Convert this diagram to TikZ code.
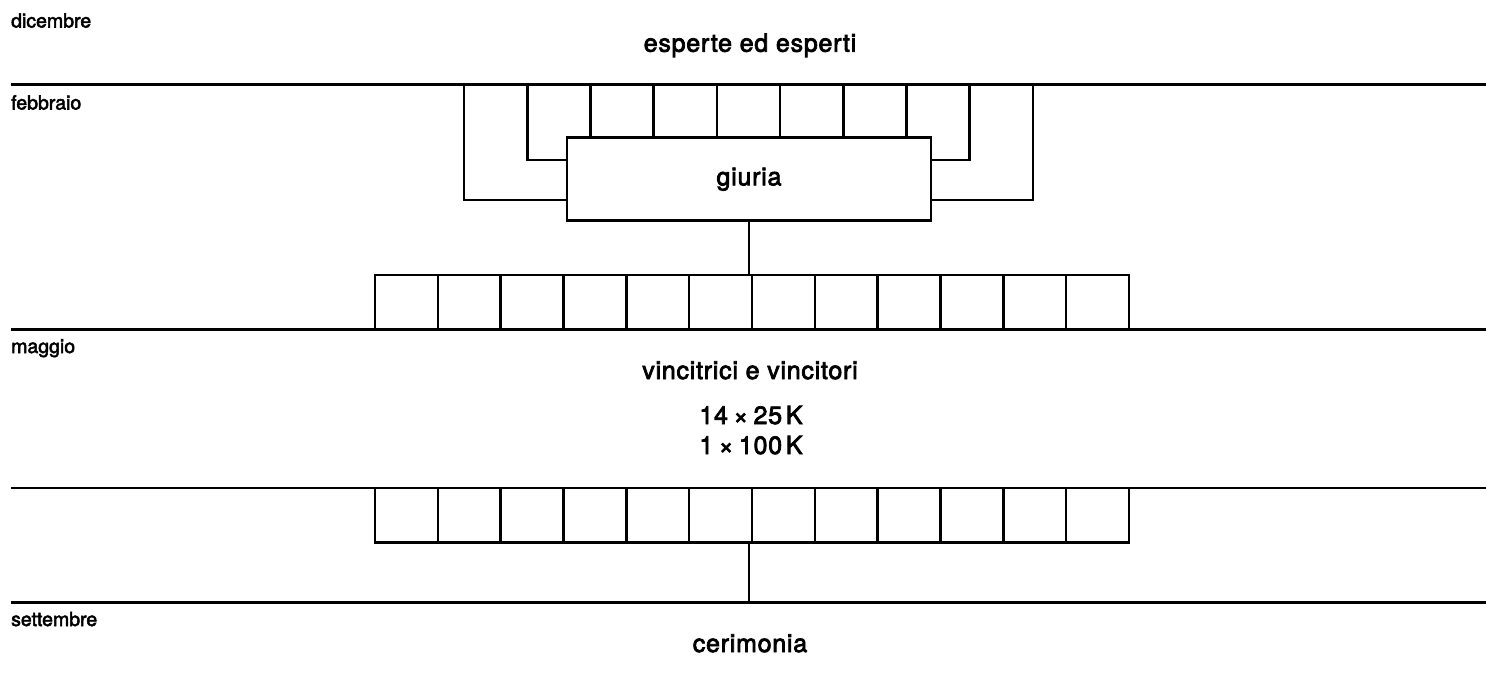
\documentclass[tikz,border=0pt]{standalone}
\usepackage{fontspec}
\setmainfont{TeX Gyre Heros}
\newfontfamily\labfam{TeX Gyre Heros}[FakeBold=2.6]
\newfontfamily\headfam{TeX Gyre Heros}[FakeBold=3,LetterSpace=3]
\newcommand{\labfont}{\labfam\fontsize{19.5}{22}\selectfont}
\newcommand{\headfont}{\headfam\fontsize{25}{30}\selectfont}
\begin{document}
\begin{tikzpicture}[x=1pt,y=-1pt,
  rule/.style={line width=2.6pt},
  cell/.style={draw, line width=2.6pt, minimum width=62.83pt, minimum height=54.5pt, inner sep=0pt, outer sep=0pt},
  jury/.style={draw, line width=2.6pt, fill=white, minimum width=364pt, minimum height=83pt, inner sep=0pt, outer sep=0pt, font=\headfont},
  month/.style={anchor=base west, inner sep=0pt, font=\labfont},
  head/.style={anchor=base, inner sep=0pt, font=\headfont, align=center}]
\useasboundingbox (0,0) rectangle (1486,678);
% timeline rules
\coordinate (r1a) at (11,84.3);  \coordinate (r1b) at (1486,84.3);
\coordinate (r2a) at (11,329.3); \coordinate (r2b) at (1486,329.3);
\coordinate (r3a) at (11,488);   \coordinate (r3b) at (1486,488);
\coordinate (r4a) at (11,602.3); \coordinate (r4b) at (1486,602.3);
\draw[rule] (r1a) -- (r1b);
\draw[rule] (r2a) -- (r2b);
\draw[rule] (r3a) -- (r3b);
\draw[rule] (r4a) -- (r4b);
% month labels
\node[month] (dic) at (11,27.5) {dicembre};
\node[month] (feb) at (11,109.5) {febbraio};
\node[month] (mag) at (11,353) {maggio};
\node[month] (set) at (11,626) {settembre};
% headings
\node[head] (esp) at (750,51.7) {esperte ed esperti};
\node[head] (vin) at (750,379) {vincitrici e vincitori};
\node[head] (pre) at (751,454) {14\hspace{0.22em}×\hspace{0.22em}25\hspace{0.15em}K\\1\hspace{0.22em}×\hspace{0.22em}100\hspace{0.15em}K};
\node[head] (cer) at (750,652) {cerimonia};
% jury box
\node[jury] (giuria) at (749,179.2) {giuria};
% expert connectors
\coordinate (yin) at (0,160);
\coordinate (yout) at (0,200);
\foreach \i in {0,...,9} { \coordinate (t\i) at (464+63.2*\i,84.3); }
\draw[rule] (t0) |- (giuria.west |- yout);
\draw[rule] (t1) |- (giuria.west |- yin);
\draw[rule] (t8) |- (giuria.east |- yin);
\draw[rule] (t9) |- (giuria.east |- yout);
\foreach \i in {2,...,7} { \draw[rule] (t\i) -- (t\i |- giuria.north); }
% winner cells
\foreach \i in {0,...,11} {
  \node[cell] (c\i) at (375+31.415+62.83*\i,302.05) {};
  \node[cell] (d\i) at (375+31.415+62.83*\i,515.25) {};
}
\draw[rule] (giuria.south) -- (giuria.south |- c0.north);
\draw[rule] (giuria.south |- d0.south) -- (giuria.south |- r4a);
\end{tikzpicture}
\end{document}
